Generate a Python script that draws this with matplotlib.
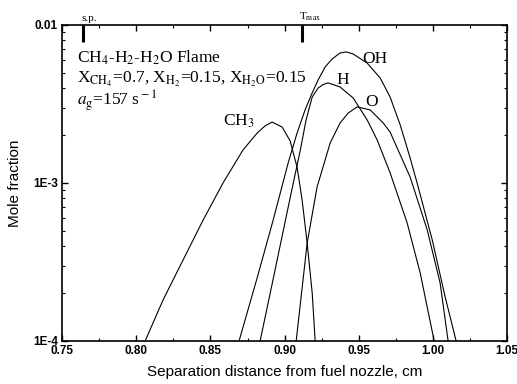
import numpy as np
import matplotlib
matplotlib.use("Agg")
import matplotlib.pyplot as plt
from matplotlib.ticker import FixedLocator, LogLocator, NullFormatter, MultipleLocator

plt.rcParams['mathtext.fontset'] = 'stix'

# values
ch3_x = [0.8060, 0.8181, 0.8316, 0.8451, 0.8585, 0.8720, 0.8815, 0.8869, 0.8916, 0.8983,
         0.9037, 0.9084, 0.9118, 0.9152, 0.9186, 0.9206]
ch3_y = [1.0e-4, 1.82e-4, 3.26e-4, 5.83e-4, 1.0e-3, 1.62e-3, 2.07e-3, 2.30e-3, 2.43e-3, 2.26e-3,
         1.85e-3, 1.26e-3, 7.80e-4, 4.17e-4, 2.01e-4, 1.0e-4]

oh_x = [0.8693, 0.8815, 0.8923, 0.9024, 0.9084, 0.9138, 0.9186, 0.9226, 0.9273, 0.9320,
        0.9374, 0.9415, 0.9462, 0.9556, 0.9644, 0.9711, 0.9779, 0.9846, 0.9893, 0.9995,
        1.0082, 1.0156]
oh_y = [1.0e-4, 2.51e-4, 5.83e-4, 1.34e-3, 2.07e-3, 2.90e-3, 3.72e-3, 4.49e-3, 5.42e-3, 6.09e-3,
        6.65e-3, 6.75e-3, 6.55e-3, 5.74e-3, 4.62e-3, 3.50e-3, 2.33e-3, 1.44e-3, 1.0e-3, 4.36e-4,
        1.90e-4, 1.0e-4]

h_x = [0.8835, 0.8923, 0.9037, 0.9105, 0.9145, 0.9186, 0.9226, 0.9260, 0.9293, 0.9374,
       0.9462, 0.9556, 0.9624, 0.9711, 0.9826, 0.9914, 1.0008]
h_y = [1.0e-4, 2.47e-4, 8.03e-4, 1.60e-3, 2.51e-3, 3.50e-3, 3.99e-3, 4.20e-3, 4.30e-3, 4.05e-3,
       3.45e-3, 2.51e-3, 1.87e-3, 1.16e-3, 5.58e-4, 2.69e-4, 1.0e-4]

o_x = [0.9078, 0.9152, 0.9219, 0.9307, 0.9374, 0.9428, 0.9489, 0.9577, 0.9664, 0.9711,
       0.9846, 0.9961, 1.0048, 1.0102]
o_y = [1.0e-4, 4.17e-4, 9.44e-4, 1.79e-3, 2.40e-3, 2.77e-3, 3.03e-3, 2.90e-3, 2.40e-3, 2.10e-3,
       1.09e-3, 5.05e-4, 2.33e-4, 1.0e-4]

x_ticks = [0.75, 0.80, 0.85, 0.90, 0.95, 1.00, 1.05]
y_ticks = [1e-4, 1e-3, 1e-2]
y_labels = ['1E-4', '1E-3', '0.01']

sp_x = 0.764
tmax_x = 0.912

fig = plt.figure(figsize=(5.17, 3.84), dpi=100)
ax = fig.add_axes([0.120, 0.112, 0.861, 0.823])

for xs, ys in [(ch3_x, ch3_y), (oh_x, oh_y), (h_x, h_y), (o_x, o_y)]:
    ax.plot(xs, ys, color='black', lw=0.8)

ax.set_yscale('log')
ax.set_xlim(0.75, 1.05)
ax.set_ylim(1e-4, 1e-2)

ax.xaxis.set_major_locator(FixedLocator(x_ticks))
ax.xaxis.set_minor_locator(MultipleLocator(0.025))
ax.set_xticklabels([f'{v:.2f}' for v in x_ticks])
ax.yaxis.set_major_locator(FixedLocator(y_ticks))
ax.yaxis.set_minor_locator(LogLocator(base=10, subs=np.arange(2, 10)))
ax.yaxis.set_minor_formatter(NullFormatter())
ax.set_yticklabels(y_labels)

ax.tick_params(which='both', direction='in', top=True, right=True, color='black')
ax.tick_params(which='major', length=4, width=1.0, labelsize=8.5, pad=3)
ax.tick_params(which='minor', length=2.5, width=0.8)
for lab in ax.get_xticklabels() + ax.get_yticklabels():
    lab.set_family('Liberation Sans')
    lab.set_weight('bold')
for s in ax.spines.values():
    s.set_linewidth(1.2)

ax.set_xlabel('Separation distance from fuel nozzle, cm', family='Liberation Sans',
              fontsize=11, labelpad=6)
ax.set_ylabel('Mole fraction', family='Liberation Sans', fontsize=11, labelpad=8)

# markers for stagnation plane and peak temperature
ax.plot([sp_x, sp_x], [1e-2, 10 ** -2.11], color='black', lw=2.2, solid_capstyle='butt')
ax.plot([tmax_x, tmax_x], [1e-2, 10 ** -2.11], color='black', lw=2.2, solid_capstyle='butt')
ax.text(sp_x - 0.001, 1.03e-2, 's.p.', family='Liberation Serif', fontsize=8, ha='left',
        va='bottom')
ax.text(tmax_x - 0.002, 1.03e-2, r'T$_{\rm max}$', family='Liberation Serif', fontsize=8,
        ha='left', va='bottom')

serif = dict(family='Liberation Serif', fontsize=12.5, transform=ax.transAxes, ha='left',
             va='center')
ax.text(0.034, 0.897, r'CH$_4$-H$_2$-H$_2$O Flame', **serif)
ax.text(0.034, 0.827, r'X$_{\rm CH_4}$=0.7, X$_{\rm H_2}$=0.15, X$_{\rm H_2O}$=0.15', **serif)
ax.text(0.034, 0.760, r'$a_{\rm g}$=157 s$^{\rm -1}$', **serif)

lab = dict(family='Liberation Serif', fontsize=12.5, ha='center', va='center')
ax.text(0.869, 2.45e-3, r'CH$_3$', **lab)
ax.text(0.961, 6.1e-3, 'OH', **lab)
ax.text(0.9395, 4.5e-3, 'H', **lab)
ax.text(0.9583, 3.26e-3, 'O', **lab)

fig.savefig('out.png', dpi=100)
